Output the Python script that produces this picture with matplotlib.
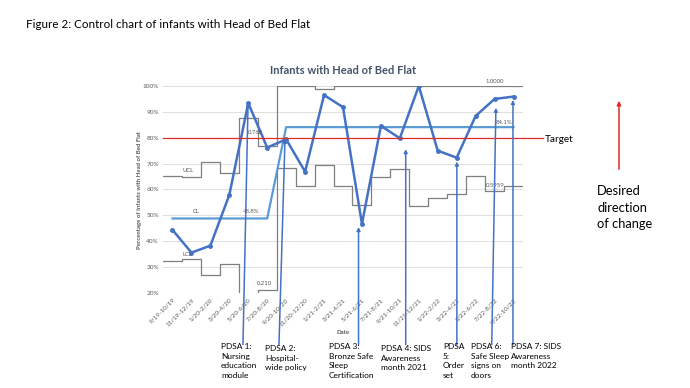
import matplotlib
matplotlib.use("Agg")
import matplotlib.pyplot as plt
import numpy as np

plt.rcParams['font.family'] = ['Lato', 'DejaVu Sans']

# ---- data ----
periods = ["9/19-10/19", "11/19-12/19", "1/20-2/20", "3/20-4/20", "5/20-6/20",
           "7/20-8/20", "9/20-10/20", "11/20-12/20", "1/21-2/21", "3/21-4/21",
           "5/21-6/21", "7/21-8/21", "9/21-10/21", "11/21-12/21", "1/22-2/22",
           "3/22-4/22", "5/22-6/22", "7/22-8/22", "9/22-10/22"]
pct_flat = [44.4, 35.6, 38.3, 57.9, 93.4, 76.2, 79.4, 66.9, 96.5, 91.8,
            46.7, 84.6, 79.8, 100.0, 75.0, 72.3, 88.4, 95.0, 95.9]
center_line = [48.8] * 6 + [84.1] * 13
ucl = [65.4, 64.8, 70.8, 66.5, 87.5, 76.8, 100, 100, 98.7, 100,
       100, 100, 100, 100, 100, 100, 100, 100, 100]
lcl = [32.4, 33.1, 27.0, 31.2, 12.0, 21.0, 68.2, 61.5, 69.4, 61.5,
       54.1, 64.8, 67.8, 53.8, 56.6, 58.3, 65.3, 59.6, 61.5]
target = 80
pdsa_labels = ["PDSA 1:\nNursing\neducation\nmodule",
               "PDSA 2:\nHospital-\nwide policy",
               "PDSA 3:\nBronze Safe\nSleep\nCertification",
               "PDSA 4: SIDS\nAwareness\nmonth 2021",
               "PDSA\n5:\nOrder\nset",
               "PDSA 6:\nSafe Sleep\nsigns on\ndoors",
               "PDSA 7: SIDS\nAwareness\nmonth 2022"]
# arrow geometry (x at bottom, x at tip, tip value)
pdsa_x_bottom = [3.72, 5.62, 9.82, 12.31, 15.01, 16.85, 17.97]
pdsa_x_tip = [3.99, 5.94, 9.82, 12.31, 15.01, 17.07, 17.97]
pdsa_tip = [93.5, 79.6, 45.5, 75.6, 70.8, 91.6, 94.6]
pdsa_text_px = [(221, 343), (265, 345), (329, 343), (381, 345), (443, 343), (471, 343), (511, 343)]

W, H = 690, 388
fig = plt.figure(figsize=(W / 100, H / 100), dpi=100)
ax = fig.add_axes([163 / W, 1 - 293 / H, 360 / W, 207 / H])

x = np.arange(len(periods))
blue = '#4472C4'
lblue = '#5B9BD5'
grey = '#7F7F7F'
red = '#E32B24'
tcol = '#595959'

ax.set_xlim(-0.5, len(periods) - 0.5)
ax.set_ylim(20, 100)
ax.set_yticks(np.arange(20, 101, 10))
ax.set_yticklabels([f"{v}%" for v in range(20, 101, 10)], fontsize=4.6, color=tcol)
ax.set_xticks(x)
ax.set_xticklabels(periods, rotation=45, ha='right', rotation_mode='anchor',
                   fontsize=4.6, color=tcol)
ax.tick_params(length=0, pad=3)
for s in ax.spines.values():
    s.set_visible(False)
ax.grid(axis='y', color='#D9D9D9', lw=0.6)
ax.set_axisbelow(True)

# control limits as steps
ax.step(x, ucl, where='mid', color=grey, lw=0.9)
ax.step(x, lcl, where='mid', color=grey, lw=0.9)
ax.plot([-0.5, 0], [ucl[0], ucl[0]], color=grey, lw=0.9)
ax.plot([len(x) - 1, len(x) - 0.5], [ucl[-1], ucl[-1]], color=grey, lw=0.9)
ax.plot([-0.5, 0], [lcl[0], lcl[0]], color=grey, lw=0.9)
ax.plot([len(x) - 1, len(x) - 0.5], [lcl[-1], lcl[-1]], color=grey, lw=0.9)

ax.plot(x, center_line, color=lblue, lw=1.6)
ax.plot(x, pct_flat, color=blue, lw=1.8, marker='o', ms=2.5)

# target line (extends past the plot)
ax.plot([-0.5, len(x) + 0.55], [target, target], color=red, lw=0.9, clip_on=False)
fig.text(545 / W, 1 - 139 / H, "Target", fontsize=7.2, va='center', ha='left')

# in-chart labels
lab = dict(fontsize=4.3, color=tcol)
ax.text(0.55, 66.8, "UCL", **lab)
ax.text(1.05, 51.0, "CL", **lab)
ax.text(0.55, 34.3, "LCL", **lab)
ax.text(3.72, 51.0, "48.8%", **lab)
ax.text(3.99, 81.6, "0.768", **lab)
ax.text(4.45, 23.2, "0.210", **lab)
ax.text(17.05, 85.3, "84.1%", **lab)
ax.text(16.5, 101.3, "1.0000", clip_on=False, **lab)
ax.text(16.55, 61.0, "0.5959", **lab)

ax.set_title("Infants with Head of Bed Flat", fontsize=8, fontweight='bold',
             color='#44546A', pad=9)
fig.text(140 / W, 1 - 190 / H, "Percentage of Infants with Head of Bed Flat",
         rotation=90, fontsize=4.3, color=tcol, fontweight='bold', ha='center', va='center')
fig.text(343 / W, 1 - 333 / H, "Date", fontsize=4.3, color=tcol, fontweight='bold',
         ha='center', va='center')

# PDSA arrows and labels
for xb, xt, yt in zip(pdsa_x_bottom, pdsa_x_tip, pdsa_tip):
    ax.annotate('', xy=(xt, yt), xytext=(xb, 0.0), annotation_clip=False,
                arrowprops=dict(arrowstyle='-|>', color=blue, lw=1.1,
                                mutation_scale=5, shrinkA=0, shrinkB=0))
for (px, py), t in zip(pdsa_text_px, pdsa_labels):
    fig.text(px / W, 1 - py / H, t, fontsize=6.0, va='top', ha='left', linespacing=1.45)

fig.text(26 / W, 1 - 24 / H, "Figure 2: Control chart of infants with Head of Bed Flat",
         fontsize=8.4, va='center', ha='left')

# desired direction arrow
fig.patches.append(matplotlib.patches.FancyArrowPatch(
    (619 / W, 1 - 172 / H), (619 / W, 1 - 98 / H), transform=fig.transFigure,
    arrowstyle='-|>', mutation_scale=6, color=red, lw=1.1))
fig.text(597 / W, 1 - 185 / H, "Desired\ndirection\nof change", fontsize=9.3,
         va='top', ha='left', linespacing=1.45)

fig.savefig("out.png", dpi=100)
